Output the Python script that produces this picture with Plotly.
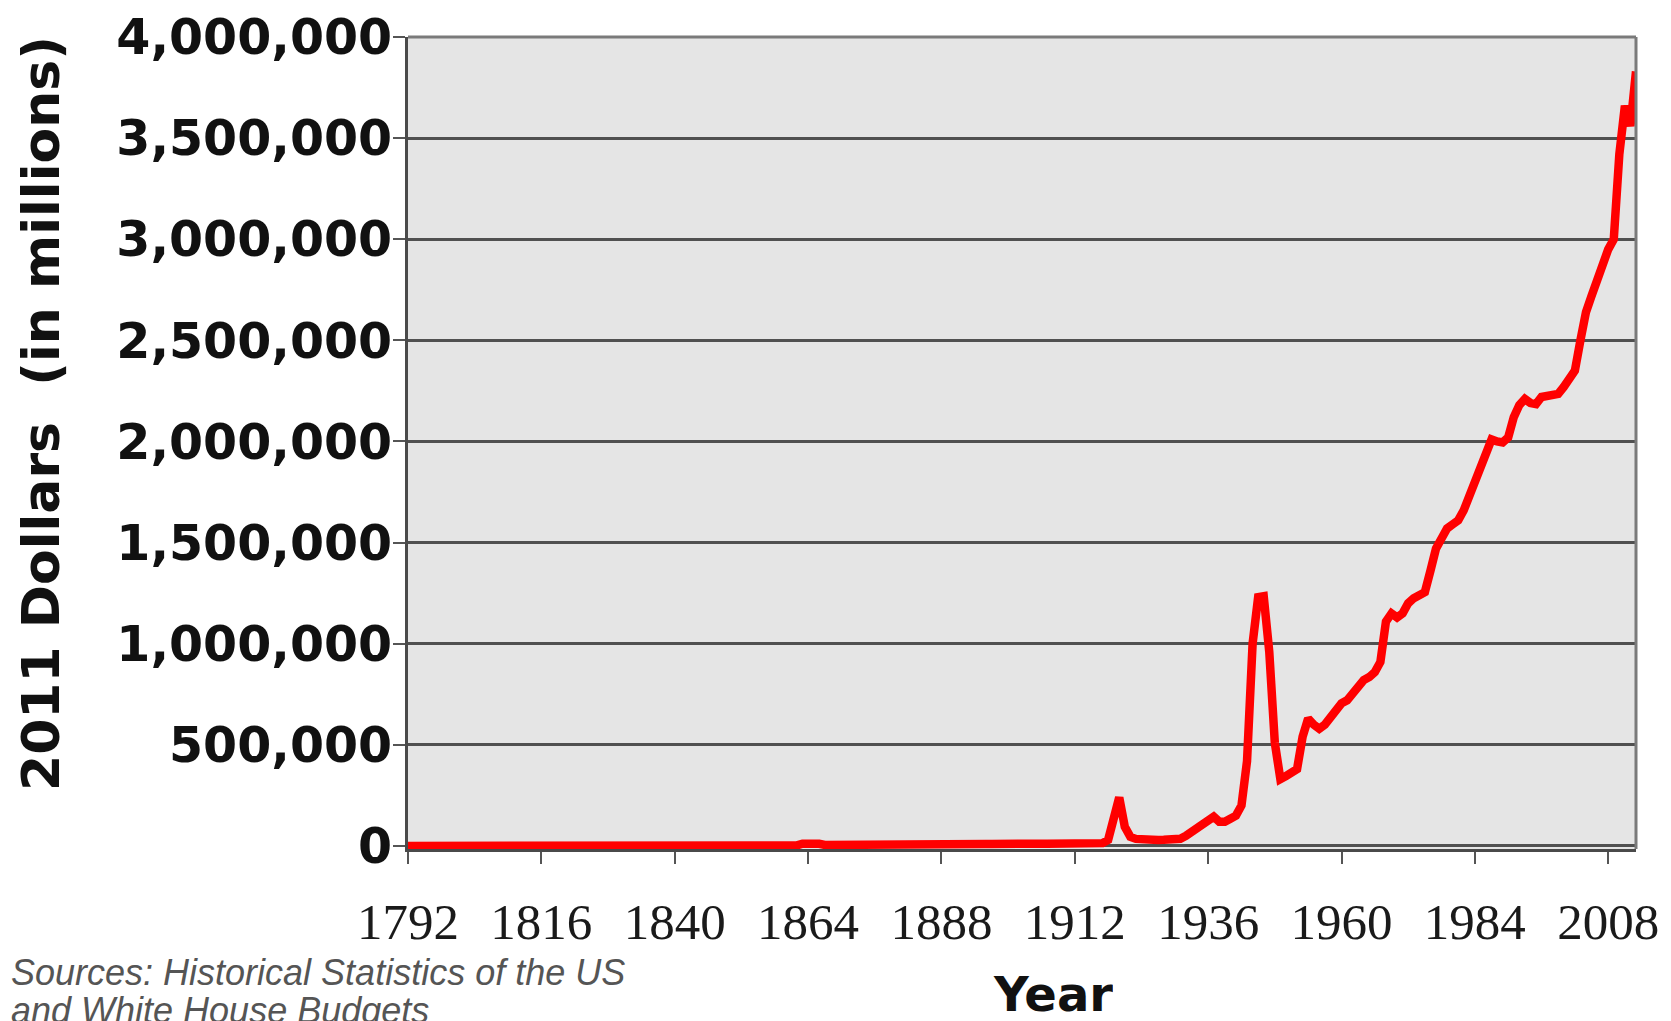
import plotly.graph_objects as go

# ---- data (2011 dollars, millions) ----
years = list(range(1792, 2014))

spend_1792_1860 = [
    120, 110, 130, 150, 110, 130, 160, 200,                 # 1792-1799
    200, 170, 130, 140, 150, 160, 170, 160, 170, 190,       # 1800s
    170, 160, 400, 650, 750, 800, 700, 500, 400, 420,       # 1810s
    400, 380, 360, 350, 420, 400, 410, 420, 450, 430,       # 1820s
    440, 450, 500, 600, 550, 500, 800, 1000, 1100, 900,     # 1830s
    800, 850, 800, 500, 750, 800, 850, 1500, 1700, 1300,    # 1840s
    1200, 1300, 1300, 1300, 1600, 1700, 1900, 1900, 2000, 2000,  # 1850s
    1900,                                                   # 1860
]
spend_1861_1916 = [
    2500, 3000, 11000, 13000, 14000, 11000, 5000, 4800, 4500,          # 1861-1869
    4300, 4000, 4000, 4200, 4400, 4200, 4100, 4000, 4000, 4300,        # 1870s
    4200, 4000, 4000, 4100, 4200, 4500, 4400, 4600, 4700, 4900,        # 1880s
    5200, 6500, 9000, 9500, 9800, 9600, 9500, 9800, 11000, 13000,      # 1890s
    12000, 11500, 11000, 11200, 11800, 11600, 11400, 11300, 12000, 12500,  # 1900s
    12300, 12200, 12000, 12100, 12200, 12300, 12000,                   # 1910-1916
]
spend_1917_1960 = [
    14000, 30000, 150000, 240000, 95000, 45000, 35000, 32000, 31000, 30000,      # 1917-1926
    30000, 31000, 32000, 33000, 36000, 50000, 70000, 95000, 105000, 125000,      # 1927-1936
    145000, 120000, 120000, 135000, 150000, 200000, 420000, 1000000, 1230000, 1235000,  # 1937-1946
    960000, 510000, 330000, 345000, 360000, 380000, 540000, 630000, 600000, 580000,     # 1947-1956
    600000, 635000, 660000, 705000,                                              # 1957-1960
]
spend_1961_2013 = [
    720000, 755000, 785000, 820000, 835000, 860000, 910000, 1110000, 1150000,          # 1961-1969
    1130000, 1150000, 1200000, 1225000, 1240000, 1255000, 1360000, 1470000, 1520000, 1570000,  # 1970s
    1590000, 1610000, 1660000, 1730000, 1800000, 1880000, 1940000, 2010000, 2000000, 1995000,  # 1980s
    2020000, 2120000, 2180000, 2210000, 2190000, 2185000, 2220000, 2225000, 2230000, 2235000,  # 1990s
    2270000, 2310000, 2350000, 2500000, 2640000, 2720000, 2800000, 2880000, 2950000, 3000000,  # 2000s
    3420000, 3660000, 3560000, 3830000,                                                # 2010-2013
]
spending = spend_1792_1860 + spend_1861_1916 + spend_1917_1960 + spend_1961_2013
assert len(spending) == len(years)

x_tick_vals = list(range(1792, 2014, 24))
y_tick_vals = [0, 500000, 1000000, 1500000, 2000000, 2500000, 3000000, 3500000, 4000000]

y_title = "2011 Dollars  (in millions)"
x_title = "Year"
source_line1 = "Sources: Historical Statistics of the US"
source_line2 = "and White House Budgets"

# ---- layout geometry (page pixels; body margin removed below) ----
W, H = 1671, 1021
PL, PR, PT, PB = 408, 1636, 37, 849          # plot box in page pixels
L, T, R, B = PL, PT, W - PR, H - PB
PW, PH = W - L - R, H - T - B


def px(xp):
    return (xp - L) / PW


def py(yp):
    return (PB - yp) / PH


fig = go.Figure()
fig.add_trace(go.Scatter(
    x=years, y=spending, mode="lines",
    line=dict(color="#ff0000", width=8.5),
    hoverinfo="x+y", showlegend=False,
))

fig.update_layout(
    width=W, height=H,
    margin=dict(l=L, r=R, t=T, b=B, pad=0, autoexpand=False),
    paper_bgcolor="white",
    plot_bgcolor="#e5e5e5",
    showlegend=False,
    xaxis=dict(
        range=[1792, 2013],
        tickmode="array", tickvals=x_tick_vals,
        ticktext=[str(v) for v in x_tick_vals],
        ticks="outside", ticklen=12, tickwidth=2, tickcolor="#555555",
        showgrid=False, zeroline=False, automargin=False,
        showline=True, linecolor="#4a4a4a", linewidth=3,
        tickfont=dict(family="Liberation Serif, Times New Roman, serif", size=51, color="#1a1a1a"),
        ticklabelstandoff=14,
        layer="below traces",
    ),
    yaxis=dict(
        range=[-15000, 4000000],
        tickmode="array", tickvals=y_tick_vals,
        ticktext=[f"<b>{v:,}</b>" for v in y_tick_vals],
        ticks="outside", ticklen=12, tickwidth=2, tickcolor="#555555",
        showgrid=True, gridcolor="#505050", gridwidth=3,
        zeroline=False, automargin=False,
        showline=True, linecolor="#4a4a4a", linewidth=3,
        tickfont=dict(family="DejaVu Sans, Verdana, sans-serif", size=49, color="#111111"),
        ticklabelstandoff=-9,
        layer="below traces",
    ),
    shapes=[
        dict(type="line", xref="paper", yref="paper", x0=0, x1=1, y0=1, y1=1,
             line=dict(color="#7a7a7a", width=3)),
        dict(type="line", xref="paper", yref="paper", x0=1, x1=1, y0=0, y1=1,
             line=dict(color="#7a7a7a", width=3)),
    ],
    annotations=[
        dict(text=f"<b>{y_title}</b>", xref="paper", yref="paper",
             x=px(41), y=py(414), xanchor="center", yanchor="middle",
             textangle=-90, showarrow=False,
             font=dict(family="DejaVu Sans, Verdana, sans-serif", size=52, color="#111111")),
        dict(text=f"<b>{x_title}</b>", xref="paper", yref="paper",
             x=px(1053), y=py(994), xanchor="center", yanchor="middle",
             height=48, valign="middle",
             showarrow=False,
             font=dict(family="DejaVu Sans, Verdana, sans-serif", size=48, color="#111111")),
        dict(text=f"<i>{source_line1}</i>", xref="paper", yref="paper",
             x=px(9), y=py(972), xanchor="left", yanchor="middle",
             showarrow=False,
             font=dict(family="Liberation Sans, Arial, sans-serif", size=36, color="#555555")),
        dict(text=f"<i>{source_line2}</i>", xref="paper", yref="paper",
             x=px(9), y=py(1010), xanchor="left", yanchor="middle",
             showarrow=False,
             font=dict(family="Liberation Sans, Arial, sans-serif", size=36, color="#555555")),
    ],
)

fig.write_html(
    "out.html",
    config={"displayModeBar": False},
    post_script="document.body.style.margin='0';document.body.style.overflow='hidden';",
)
